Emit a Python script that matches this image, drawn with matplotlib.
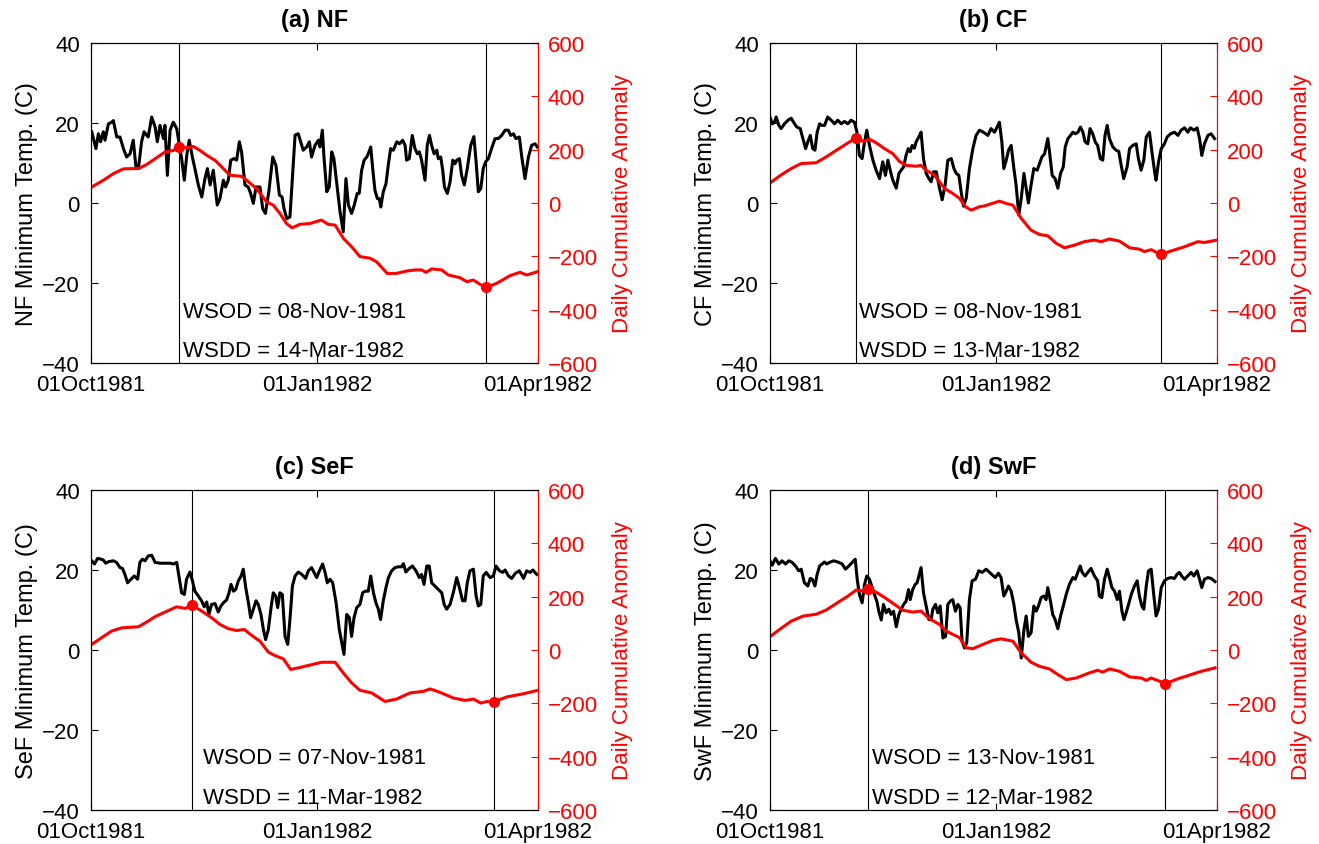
import datetime as dt
import numpy as np
import matplotlib
matplotlib.use("Agg")
import matplotlib.pyplot as plt
import matplotlib.dates as mdates
import matplotlib.transforms as mtransforms

plt.rcParams['font.family'] = ['Liberation Sans', 'DejaVu Sans']

START = dt.datetime(1981, 10, 1)

# ---- data (day offsets from 01Oct1981) ----
nf_t_day = [0.3, 2.0, 3.0, 3.9, 5.0, 5.7, 7.1, 8.4, 9.1, 10.5, 11.8, 13.2, 14.5, 15.9, 17.2, 18.3, 19.3, 20.6, 21.6, 22.6,
            23.3, 24.7, 26.1, 27.0, 28.1, 29.5, 30.1, 31.1, 32.2, 33.5, 34.9, 35.8, 36.9, 38.0, 39.0, 40.0, 41.4, 42.3, 43.7, 45.1,
            46.4, 47.4, 48.5, 49.8, 51.4, 52.5, 53.9, 54.8, 55.9, 56.9, 58.2, 59.3, 60.4, 61.3, 62.7, 64.0, 65.0, 66.1, 67.2, 68.8,
            69.9, 71.0, 72.4, 74.0, 75.3, 76.7, 77.8, 78.6, 79.7, 81.0, 83.1, 84.4,
            86.4, 87.8, 88.9, 89.8, 91.2, 92.6, 93.2, 94.2, 94.9, 96.0, 97.0, 98.0, 98.9, 100.0, 101.4, 102.7, 103.8, 104.8, 106.1, 107.2,
            108.4, 109.2, 110.2, 111.2, 112.3, 112.9, 113.9, 114.7, 115.6, 116.6, 117.4, 118.0, 119.0, 120.1, 121.1, 122.0, 123.1, 124.5, 125.6, 126.9,
            127.9, 128.5, 129.6, 130.8, 131.9, 132.9, 133.7, 134.6, 136.0, 136.9, 137.8, 138.7, 139.7, 140.8, 141.4, 142.4, 143.2, 143.9, 145.1, 146.2,
            147.3, 148.2, 148.9, 150.0, 150.9, 152.0, 153.2, 154.6, 155.9, 156.8, 157.7, 158.7, 159.7, 160.7, 161.8, 163.1, 164.5, 165.8, 167.2, 168.6,
            169.9, 170.9, 172.0, 173.0, 174.4, 175.4, 176.7, 178.1, 179.4, 180.8, 181.7]
nf_t = [17.8, 13.6, 17.3, 15.3, 17.8, 15.7, 19.8, 20.2, 20.6, 16.5, 16.5, 13.6, 11.5, 12.3, 15.7, 9.0, 8.6, 15.3, 17.8, 17.0,
        16.5, 21.5, 19.0, 15.3, 19.4, 16.1, 19.4, 6.9, 18.2, 20.2, 18.6, 15.3, 11.1, 5.7, 12.0, 15.7, 11.1, 8.6, 4.5, 1.5,
        6.1, 8.6, 4.5, 8.2, -0.5, 1.1, 5.7, 4.0, 5.7, 10.7, 11.1, 10.7, 15.3, 12.8, 4.5, 4.0, 2.4, -0.1, 4.0, 4.0,
        -1.4, -2.6, 2.8, 11.5, 9.4, 2.0, 1.5, -1.4, -3.9, -3.5, 17.0, 17.3,
        13.2, 14.0, 15.3, 11.5, 14.4, 15.7, 14.0, 18.2, 11.1, 2.8, 4.0, 12.8, 11.1, 5.3, -2.2, -7.2, 6.1, -0.5, -2.6, -0.5,
        2.4, 2.4, 8.2, 10.7, 11.5, 12.3, 14.0, 8.6, 3.2, 1.1, 1.1, -1.0, 2.8, 4.8, 9.8, 13.6, 13.2, 15.3, 14.8, 15.7,
        14.4, 10.7, 11.1, 16.9, 13.6, 12.3, 12.8, 10.7, 5.7, 14.4, 16.9, 14.4, 12.3, 13.2, 11.1, 11.5, 8.2, 4.0, 2.4, 5.3,
        10.7, 9.8, 10.7, 11.1, 6.9, 4.5, 8.6, 14.4, 16.6, 10.3, 2.8, 3.6, 8.6, 10.3, 11.1, 13.6, 16.1, 16.1, 16.9, 18.2,
        18.2, 16.9, 17.3, 16.1, 16.5, 11.5, 6.1, 11.5, 14.4, 14.8, 14.0]
nf_a_day = [0.3, 5.0, 9.1, 13.2, 16.6, 19.3, 22.6, 26.1, 30.1, 33.5, 35.9, 39.0, 41.7, 44.4, 47.1, 50.5, 53.9, 56.6, 61.3, 63.4,
            67.4, 71.5, 74.2, 76.9, 79.6, 81.9, 85.0, 89.1, 93.8, 96.6, 99.4, 102.8, 106.1, 109.5, 113.6, 116.2, 120.6, 124.4, 128.5, 131.9,
            134.6, 136.4, 138.7, 142.8, 145.5, 150.2, 153.0, 155.7, 158.4, 160.9, 165.2, 170.7, 174.7, 177.4, 182.0]
nf_a = [60, 85, 110, 128, 129, 129, 144, 166, 191, 197, 212, 207, 212, 197, 179, 160, 129, 104, 100, 85,
        54, 4, -8, -39, -77, -93, -80, -77, -64, -80, -83, -133, -164, -201, -207, -220, -264, -264, -255, -251,
        -251, -260, -247, -251, -270, -280, -295, -289, -305, -317, -301, -272, -260, -270, -257]

cf_t_day = [0, 0.9, 1.8, 2.5, 3.6, 4.5, 5.9, 7.3, 8.6, 10.0, 10.9, 12.3, 13.4, 14.5, 15.4, 16.4, 17.4, 18.3, 19.2, 20.2,
            21.1, 22.2, 23.5, 24.9, 26.3, 27.6, 29.0, 30.3, 31.7, 33.0, 34.4, 35.4, 36.4, 37.5, 38.5, 39.4, 40.5, 41.9, 43.2, 44.6,
            45.9, 47.0, 48.0, 49.1, 50.0, 51.4, 52.5, 53.4, 54.4, 55.4, 56.3, 57.1, 57.9, 58.8, 59.5, 60.6, 61.5, 62.5, 63.6, 64.7,
            65.6, 66.6, 67.7, 69.0, 70.1, 71.3, 72.4, 73.8, 74.9, 75.8, 76.9, 77.8, 78.8, 79.9, 81.2, 82.6, 83.9, 85.3, 86.9, 88.7,
            90.0, 91.4, 92.5, 93.4, 94.4, 95.2, 96.2, 97.1, 98.2, 99.3, 100.2, 101.3, 102.3, 103.4, 104.3, 105.2, 106.3, 107.4, 108.8, 109.7,
            110.7, 111.8, 113.1, 113.8, 114.9, 116.1, 117.2, 118.3, 119.4, 120.2, 121.3, 122.4, 123.3, 124.3, 125.4, 126.4, 127.4, 128.3, 129.4, 130.3,
            131.4, 132.4, 133.4, 134.5, 135.5, 136.4, 137.3, 138.2, 139.6, 140.9, 142.0, 143.0, 144.0, 145.4, 146.4, 147.7, 149.1, 150.0, 151.1, 152.2,
            153.2, 154.5, 155.5, 156.6, 157.2, 158.2, 159.3, 160.6, 161.7, 163.1, 164.7, 166.1, 167.4, 168.8, 170.1, 171.2, 172.6, 173.9, 174.9, 175.8,
            176.9, 178.3, 179.6, 181.0]
cf_t = [21.5, 19.8, 20.2, 21.5, 19.4, 18.6, 19.8, 20.7, 21.2, 19.8, 19.0, 18.6, 16.1, 13.6, 15.3, 16.9, 13.6, 13.2, 17.7, 19.8,
        19.4, 19.4, 21.5, 20.7, 19.8, 20.7, 19.8, 20.4, 19.8, 20.7, 20.2, 17.7, 11.9, 11.1, 15.3, 18.2, 14.4, 10.7, 8.2, 6.1,
        10.3, 6.9, 10.7, 7.8, 5.7, 3.7, 7.4, 8.2, 9.0, 11.9, 13.6, 12.8, 14.4, 13.7, 15.3, 16.5, 17.7, 11.1, 7.4, 6.1,
        5.3, 7.8, 7.8, 3.7, 0.8, 4.5, 10.7, 11.1, 8.6, 7.4, 6.9, 2.9, -0.8, 1.2, 8.6, 13.6, 16.9, 18.2, 17.7, 16.9,
        18.6, 17.7, 19.0, 20.2, 15.3, 8.6, 10.7, 13.2, 14.4, 8.6, 4.5, -3.0, 1.2, 7.4, 3.7, 0.0, 4.5, 8.6, 8.2, 9.8,
        11.5, 12.3, 16.1, 12.8, 6.9, 6.1, 3.7, 7.4, 9.0, 14.0, 16.1, 16.9, 17.7, 17.3, 17.7, 19.0, 17.7, 15.3, 14.8, 18.6,
        17.3, 15.3, 14.4, 11.1, 10.7, 16.9, 19.4, 16.1, 14.0, 13.2, 12.9, 9.4, 6.1, 9.0, 13.6, 14.4, 14.8, 11.1, 8.2, 10.7,
        16.5, 17.7, 12.8, 7.8, 5.7, 10.3, 13.6, 14.8, 16.5, 17.3, 17.7, 16.9, 18.2, 18.8, 17.7, 18.8, 18.2, 18.8, 16.1, 11.9,
        14.8, 16.9, 17.3, 16.1]
cf_a_day = [0, 4.0, 8.6, 12.7, 18.8, 22.9, 26.9, 31.7, 35.4, 37.8, 40.5, 43.2, 46.6, 50.0, 52.7, 55.4, 59.5, 61.5, 63.6, 67.0,
            71.1, 74.4, 77.2, 79.6, 81.9, 85.3, 87.3, 93.4, 96.2, 98.9, 102.3, 106.3, 109.7, 113.1, 116.5, 119.9, 124.0, 128.0, 132.1, 134.8,
            138.2, 142.3, 146.4, 150.4, 152.4, 155.2, 159.0, 163.3, 168.8, 174.2, 176.9, 182.0]
cf_a = [75, 102, 129, 148, 151, 173, 197, 225, 247, 231, 239, 226, 204, 185, 156, 141, 138, 141, 123, 104,
        54, 36, 17, -14, -27, -14, -11, 7, -2, -8, -58, -102, -118, -123, -151, -168, -158, -145, -139, -145,
        -135, -143, -168, -173, -182, -175, -193, -180, -164, -145, -148, -139]

sef_t_day = [0.3, 1.4, 2.7, 4.1, 5.0, 6.0, 7.3, 9.1, 10.4, 11.8, 12.8, 13.8, 14.9, 16.3, 17.6, 19.0, 19.9, 20.9, 22.0, 23.3,
             24.7, 26.1, 28.1, 30.1, 32.2, 33.5, 34.9, 35.8, 36.9, 38.0, 38.9, 40.3, 41.3, 42.3, 43.7, 45.1, 46.1, 47.1, 48.0, 49.1,
             50.5, 51.8, 52.9, 53.9, 55.2, 56.2, 57.0, 58.0, 58.9, 60.0, 61.1, 62.0, 63.0, 64.1, 65.0, 66.1, 67.2, 68.1, 69.2, 70.2,
             71.1, 72.2, 73.3, 74.2, 75.2, 76.0, 76.9, 77.9, 79.0, 80.1, 81.0, 82.0, 83.1, 84.4, 85.8, 87.4, 88.5, 89.8,
             91.9, 93.0, 94.3, 95.3, 96.2, 97.3, 98.4, 99.8, 101.1, 102.1, 103.0, 104.1, 105.2, 106.1, 107.1, 108.2, 109.5, 110.6, 111.6, 112.9,
             113.9, 115.0, 116.0, 117.0, 117.9, 119.0, 120.1, 121.1, 122.4, 123.8, 125.1, 126.5, 127.2, 128.2, 129.6, 130.9, 132.3, 133.7, 134.6, 135.6,
             136.7, 137.7, 138.7, 140.0, 141.4, 142.8, 143.8, 144.8, 146.2, 147.5, 148.9, 150.0, 151.3, 152.3, 153.2, 154.3, 155.7, 156.8, 157.7, 158.7,
             159.7, 160.9, 162.5, 163.8, 164.9, 166.3, 167.6, 168.6, 170.0, 171.3, 172.8, 174.4, 176.1, 177.4, 178.8, 179.9, 181.5]
sef_t = [22.3, 21.5, 22.9, 22.7, 22.5, 21.7, 22.1, 22.3, 21.9, 20.6, 20.4, 18.9, 16.8, 17.7, 18.5, 17.7, 21.9, 22.7, 22.3, 23.5,
         23.7, 21.9, 21.7, 21.7, 21.7, 21.5, 21.9, 18.5, 14.3, 13.9, 17.7, 19.5, 17.3, 14.7, 13.5, 12.2, 10.8, 12.0, 8.9, 11.4,
         11.6, 9.5, 11.0, 11.8, 12.5, 14.3, 16.4, 14.7, 15.1, 17.3, 18.5, 20.2, 15.6, 11.8, 8.1, 10.2, 12.3, 11.4, 8.9, 5.1,
         2.6, 5.1, 10.6, 14.3, 13.5, 10.6, 14.3, 13.9, 3.4, 1.4, 7.6, 16.0, 18.5, 19.5, 18.9, 17.9, 19.8, 20.6,
         18.1, 19.8, 21.5, 19.4, 16.8, 17.7, 16.8, 11.8, 5.1, 1.8, -1.1, 8.9, 8.1, 3.4, 8.1, 10.6, 11.4, 14.3, 14.7, 14.7,
         18.5, 14.3, 11.8, 10.2, 7.6, 12.3, 15.6, 18.1, 19.8, 20.6, 20.8, 20.8, 21.6, 19.5, 20.4, 21.0, 19.8, 18.1, 18.9, 16.4,
         21.0, 21.0, 16.8, 16.0, 15.1, 14.3, 11.4, 10.2, 11.4, 14.3, 18.1, 15.6, 12.3, 12.3, 16.8, 19.8, 20.2, 13.5, 11.0, 11.4,
         18.5, 19.4, 18.1, 18.5, 21.0, 19.8, 19.4, 20.0, 18.5, 17.9, 19.2, 19.8, 17.9, 19.8, 19.4, 20.0, 18.9]
sef_a_day = [0.3, 4.3, 8.4, 12.5, 19.3, 22.7, 26.1, 30.1, 34.9, 38.3, 41.0, 44.4, 49.1, 52.5, 55.9, 59.3, 62.4, 65.4, 68.8, 72.2,
             74.9, 78.3, 81.3, 84.4, 88.5, 93.9, 99.4, 102.7, 106.1, 109.5, 114.3, 119.7, 124.4, 129.9, 135.3, 138.1, 142.2, 147.5, 152.3, 155.7,
             158.7, 161.2, 163.8, 169.3, 176.1, 182.0]
sef_a = [21, 46, 71, 83, 87, 105, 125, 142, 162, 156, 167, 150, 121, 96, 80, 73, 77, 55, 33, -8,
         -21, -33, -73, -67, -58, -46, -46, -86, -123, -151, -161, -193, -184, -161, -155, -146, -159, -180, -189, -184,
         -199, -193, -195, -176, -164, -151]

swf_t_day = [0, 0.9, 2.2, 3.6, 4.9, 6.3, 7.7, 9.0, 10.4, 11.7, 12.7, 14.0, 15.4, 16.4, 17.2, 18.3, 19.2, 20.2, 21.2, 22.2,
             23.1, 24.2, 25.9, 27.6, 29.4, 30.7, 32.1, 33.5, 34.7, 35.5, 36.4, 37.5, 38.5, 39.4, 40.5, 41.6, 42.5, 43.5, 44.3, 45.3,
             46.2, 47.3, 48.4, 49.3, 50.3, 51.4, 52.5, 53.4, 54.4, 55.4, 56.4, 57.1, 58.1, 59.1, 59.9, 60.6, 61.5, 62.5, 63.6, 64.7,
             65.6, 66.3, 67.4, 68.3, 69.3, 70.4, 71.5, 72.4, 73.4, 74.4, 75.5, 76.5, 77.4, 78.2, 79.2, 80.1, 81.2, 82.3, 83.7, 85.0,
             86.4, 88.0,
             90.3, 91.7, 93.0, 94.1, 95.2, 96.2, 97.1, 98.2, 99.3, 100.2, 101.3, 102.3, 103.4, 104.3, 105.2, 106.3, 107.4, 108.4, 109.3, 110.4,
             111.5, 112.4, 113.1, 114.2, 115.1, 116.1, 117.2, 118.3, 119.4, 120.6, 121.9, 123.3, 124.3, 125.3, 126.3, 127.1, 128.3, 129.4, 130.7, 132.1,
             133.4, 134.1, 135.1, 136.2, 137.3, 138.2, 139.2, 140.3, 141.4, 142.3, 143.3, 144.1, 145.0, 146.0, 147.1, 148.4, 149.5, 150.4, 151.4, 152.2,
             153.2, 154.1, 155.2, 156.3, 157.2, 158.2, 159.3, 160.6, 162.0, 163.3, 164.7, 165.7, 166.7, 167.6, 168.8, 170.1, 171.5, 172.6, 173.9, 174.9,
             175.8, 176.9, 178.3, 179.6, 181.2]
swf_t = [22.3, 21.2, 22.9, 21.5, 22.3, 21.5, 22.3, 21.9, 21.0, 19.8, 20.2, 16.8, 16.0, 17.9, 17.7, 16.0, 18.9, 21.0, 21.5, 22.0,
         21.5, 21.9, 22.3, 22.0, 21.5, 20.2, 21.0, 21.9, 22.7, 17.7, 13.9, 11.8, 16.4, 18.5, 17.7, 15.6, 13.9, 12.2, 9.7, 7.5,
         11.4, 9.3, 10.2, 8.9, 9.7, 5.8, 8.9, 10.2, 11.4, 12.2, 15.1, 12.6, 15.1, 16.4, 16.8, 18.5, 20.6, 14.3, 11.0, 7.6,
         7.6, 10.2, 11.4, 9.3, 11.0, 3.0, 3.4, 11.4, 12.2, 12.6, 9.7, 11.4, 10.6, 2.2, 0.5, 1.8, 12.6, 17.3, 17.7, 19.8,
         19.4, 20.2,
         18.9, 18.1, 19.2, 18.1, 13.5, 14.7, 16.0, 14.7, 11.4, 7.6, 4.3, -2.0, 5.1, 8.5, 3.4, 4.3, 11.0, 9.7, 11.0, 13.1,
         13.5, 12.6, 15.6, 12.2, 8.9, 7.6, 5.3, 8.5, 11.0, 13.9, 16.4, 18.1, 17.7, 19.4, 21.0, 19.4, 18.5, 19.4, 20.4, 18.5,
         17.3, 13.5, 13.1, 17.7, 20.2, 18.1, 15.6, 14.7, 12.6, 14.7, 9.7, 7.6, 9.3, 11.4, 13.9, 16.0, 17.3, 13.5, 11.0, 10.2,
         16.0, 19.8, 20.2, 13.5, 8.5, 10.2, 15.6, 17.3, 17.9, 18.1, 17.9, 18.9, 19.4, 18.5, 17.7, 18.5, 19.4, 18.5, 19.8, 17.7,
         15.6, 17.7, 18.1, 17.9, 17.1]
swf_a_day = [0, 3.9, 8.6, 13.4, 18.8, 22.9, 27.6, 31.7, 35.1, 37.8, 40.5, 43.9, 47.3, 50.7, 54.1, 58.2, 61.5, 64.9, 69.0, 71.7,
             77.2, 79.9, 82.6, 86.7, 90.7, 94.1, 98.9, 102.3, 106.3, 109.7, 113.8, 117.2, 120.6, 124.7, 129.4, 133.4, 135.5, 138.2, 142.3, 146.4,
             151.1, 153.2, 155.2, 158.6, 161.0, 166.1, 171.5, 175.6, 181.2]
swf_a = [50, 77, 108, 127, 134, 150, 178, 202, 225, 221, 230, 213, 193, 171, 149, 142, 146, 117, 96, 71,
         46, 8, 5, 21, 36, 42, 33, -11, -46, -61, -71, -92, -111, -105, -88, -76, -83, -71, -80, -101,
         -105, -114, -105, -117, -126, -108, -92, -80, -67]

titles = ['(a) NF', '(b) CF', '(c) SeF', '(d) SwF']
names = ['NF', 'CF', 'SeF', 'SwF']
wsod_text = ['08-Nov-1981', '08-Nov-1981', '07-Nov-1981', '13-Nov-1981']
wsdd_text = ['14-Mar-1982', '13-Mar-1982', '11-Mar-1982', '12-Mar-1982']
# where the onset / demise lines sit on the plot (days from 01Oct1981)
wsod_day = [36, 35, 41, 40]
wsdd_day = [161, 159, 164, 161]
text_day = [37.6, 36.4, 45.6, 41.7]

temps = [(nf_t_day, nf_t), (cf_t_day, cf_t), (sef_t_day, sef_t), (swf_t_day, swf_t)]
anoms = [(nf_a_day, nf_a), (cf_a_day, cf_a), (sef_a_day, sef_a), (swf_a_day, swf_a)]

t0 = mdates.date2num(START)
xticks = [dt.datetime(1981, 10, 1), dt.datetime(1982, 1, 1), dt.datetime(1982, 4, 1)]

fig = plt.figure(figsize=(13.19, 8.45), dpi=100)
W, H = 1319, 845
boxes = [(91, 44), (770, 44), (91, 491), (770, 491)]
shift = mtransforms.ScaledTranslation(-6 / 100, 0, fig.dpi_scale_trans)

for i in range(4):
    left, top = boxes[i]
    ax = fig.add_axes([left / W, 1 - (top + 320) / H, 447 / W, 320 / H])
    ax2 = ax.twinx()

    td, tv = temps[i]
    ad, av = anoms[i]
    ax.plot(t0 + np.array(td), tv, color='black', lw=2.2)
    ax2.plot(t0 + np.array(ad), av, color='red', lw=2.2)

    for d in (wsod_day[i], wsdd_day[i]):
        ax.axvline(t0 + d, color='black', lw=0.8)
        ax2.plot(t0 + d, np.interp(d, ad, av), 'o', color='red', ms=7)

    ax.text(t0 + text_day[i], -27, 'WSOD = ' + wsod_text[i], fontsize=16, va='center')
    ax.text(t0 + text_day[i], -37, 'WSDD = ' + wsdd_text[i], fontsize=16, va='center')

    ax.set_xlim(t0, t0 + 182)
    ax.set_ylim(-40, 40)
    ax.set_yticks([-40, -20, 0, 20, 40])
    ax.set_xticks([mdates.date2num(d) for d in xticks])
    ax.set_xticklabels([d.strftime('%d%b%Y') for d in xticks])
    for lab in ax.get_xticklabels():
        lab.set_transform(lab.get_transform() + shift)
    ax.tick_params(direction='in', length=5, labelsize=16, top=True, right=False, pad=8)
    ax.set_ylabel(names[i] + ' Minimum Temp. (C)', fontsize=17, labelpad=3)
    ax.set_title(titles[i], fontsize=17, fontweight='bold', pad=12)

    ax2.set_ylim(-600, 600)
    ax2.set_yticks(range(-600, 601, 200))
    ax2.tick_params(axis='y', direction='in', length=5, labelsize=16, colors='red', pad=7)
    ax2.spines['right'].set_color('red')
    ax2.set_ylabel('Daily Cumulative Anomaly', fontsize=16, color='red', labelpad=10)

fig.savefig('out.png', dpi=100)
